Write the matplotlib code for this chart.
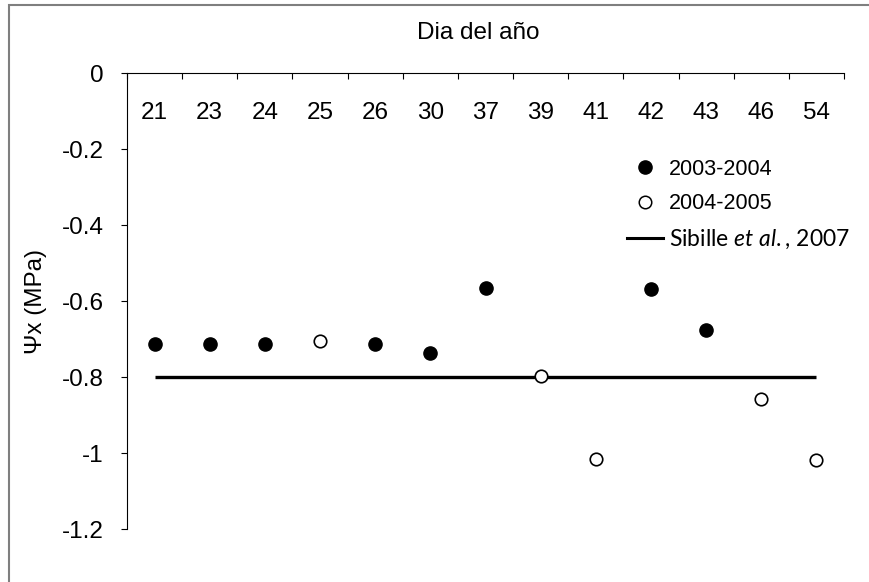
import matplotlib
matplotlib.use('Agg')
import matplotlib.pyplot as plt
import numpy as np
from matplotlib.lines import Line2D

plt.rcParams['font.family'] = ['Liberation Sans', 'DejaVu Sans']
plt.rcParams['mathtext.fontset'] = 'custom'
plt.rcParams['mathtext.rm'] = 'Lato'
plt.rcParams['mathtext.it'] = 'Lato:italic'

# data
days = ['21', '23', '24', '25', '26', '30', '37', '39', '41', '42', '43', '46', '54']
psi_0304 = [-0.712, -0.712, -0.712, np.nan, -0.712, -0.738, -0.566, np.nan, np.nan, -0.568, -0.676, np.nan, np.nan]
psi_0405 = [np.nan, np.nan, np.nan, -0.705, np.nan, np.nan, np.nan, -0.797, -1.015, np.nan, np.nan, -0.858, -1.018]
sibille = [-0.8] * len(days)

x = np.arange(len(days))
fs = 17.5

fig = plt.figure(figsize=(8.7, 5.82), dpi=100)
ax = fig.add_axes([127/870, 1 - 529/582, (844 - 127)/870, (529 - 73)/582])

ax.plot(x, sibille, color='black', lw=2.4, solid_capstyle='butt')
ax.plot(x, psi_0304, 'o', color='black', ms=9.5, ls='none')
ax.plot(x, psi_0405, 'o', mfc='white', mec='black', mew=1.2, ms=9, ls='none')

ax.set_xlim(-0.5, len(days) - 0.5)
ax.set_ylim(-1.2, 0)

ax.spines['bottom'].set_visible(False)
ax.spines['right'].set_visible(False)
ax.spines['top'].set_color('black')
ax.spines['left'].set_color('black')

# category boundaries as ticks on the top axis
ax.set_xticks(np.arange(len(days) + 1) - 0.5)
ax.tick_params(axis='x', top=True, bottom=False, labeltop=False, labelbottom=False,
               direction='in', length=4.5)
for xi, d in zip(x, days):
    ax.text(xi, -0.105, d, ha='center', va='center', fontsize=fs)

yt = [0, -0.2, -0.4, -0.6, -0.8, -1, -1.2]
ax.set_yticks(yt)
ax.set_yticklabels(['0', '-0.2', '-0.4', '-0.6', '-0.8', '-1', '-1.2'])
ax.tick_params(axis='y', direction='out', length=4, labelsize=fs, pad=13)

ax.set_ylabel('Ψx (MPa)', fontsize=fs, labelpad=10)
fig.text(478/870, 1 - 33/582, 'Dia del año', ha='center', va='center', fontsize=fs)

handles = [
    Line2D([], [], marker='o', color='black', ls='none', ms=9.5),
    Line2D([], [], marker='o', mfc='white', mec='black', mew=1.1, ls='none', ms=9),
    Line2D([], [], color='black', lw=2.2),
]
labels = ['2003-2004', '2004-2005', r'Sibille $\mathit{et\ al.}$, 2007']
leg = ax.legend(handles, labels, loc='upper left', bbox_to_anchor=(627/870, 1 - 159/582),
                bbox_transform=fig.transFigure, frameon=False, fontsize=15.5,
                handlelength=1.65, handletextpad=0.3, labelspacing=0.62, borderaxespad=0,
                borderpad=0)
leg.get_texts()[2].set_family('Lato')
leg.get_texts()[2].set_fontsize(16.5)

# outer chart border (only left/top visible in the crop)
fig.add_artist(plt.Rectangle((9/870, -1), 2, 1 + (1 - 5/582), fill=False,
                             edgecolor='#7f7f7f', lw=1.5, transform=fig.transFigure))

fig.savefig('out.png', dpi=100)
